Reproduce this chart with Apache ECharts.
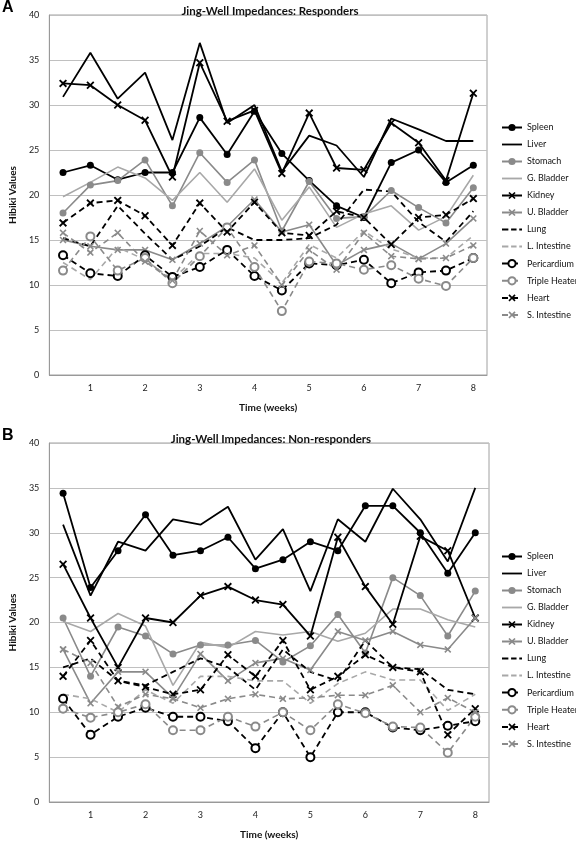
<!DOCTYPE html>
<html>
<head>
<meta charset="utf-8">
<script src="https://cdn.jsdelivr.net/npm/echarts@6/dist/echarts.min.js"></script>
<style>html,body{margin:0;padding:0;background:#fff;}#c{width:576px;height:841px;}</style>
</head>
<body>
<div id="c"></div>
<script>
// Categories: half-week time points
const weeks = ['0.5','1','1.5','2','2.5','3','3.5','4','4.5','5','5.5','6','6.5','7','7.5','8'];
const seriesNames = ['Spleen','Liver','Stomach','G. Bladder','Kidney','U. Bladder','Lung','L. Intestine','Pericardium','Triple Heater','Heart','S. Intestine'];
const titleA = 'Jing-Well Impedances: Responders';
const titleB = 'Jing-Well Impedances: Non-responders';
const yTicks = {min: 0, max: 40, interval: 5};

// Panel A: Responders
const spleenA       = [22.5, 23.3, 21.7, 22.5, 22.5, 28.6, 24.5, 29.3, 24.6, 21.6, 18.8, 17.5, 23.6, 25.0, 21.4, 23.3];
const liverA        = [30.9, 35.8, 30.7, 33.6, 26.1, 36.9, 28.0, 30.0, 22.6, 26.6, 25.5, 22.0, 28.5, 27.3, 26.0, 26.0];
const stomachA      = [18.0, 21.1, 21.6, 23.9, 18.8, 24.7, 21.4, 23.9, 16.0, 21.5, 17.4, 17.6, 20.5, 18.6, 16.9, 20.8];
const gBladderA     = [19.8, 21.4, 23.1, 21.9, 19.4, 22.5, 19.2, 22.9, 17.2, 20.9, 16.4, 17.9, 18.8, 16.1, 17.6, 22.2];
const kidneyA       = [32.4, 32.2, 30.0, 28.3, 22.0, 34.7, 28.2, 29.4, 22.4, 29.1, 23.0, 22.8, 28.0, 25.8, 21.6, 31.3];
const uBladderA     = [15.0, 14.3, 13.9, 13.9, 12.8, 14.6, 16.5, 19.5, 15.9, 16.7, 12.2, 13.9, 14.6, 12.9, 14.6, 17.4];
const lungA         = [15.2, 14.3, 18.8, 15.7, 12.8, 14.3, 16.4, 15.0, 15.0, 15.2, 16.7, 20.6, 20.4, 17.0, 14.8, 18.2];
const lIntestineA   = [12.5, 10.6, 14.2, 12.8, 10.6, 13.5, 13.5, 13.0, 10.2, 14.5, 13.0, 16.0, 14.0, 13.0, 13.0, 15.5];
const pericardiumA  = [13.3, 11.3, 11.0, 13.3, 10.9, 12.0, 13.9, 11.0, 9.4, 12.4, 12.2, 12.8, 10.2, 11.4, 11.6, 13.0];
const tripleHeaterA = [11.6, 15.4, 11.6, 13.0, 10.2, 13.2, 16.4, 12.0, 7.1, 12.6, 12.4, 11.7, 12.2, 10.7, 9.9, 13.0];
const heartA        = [16.9, 19.1, 19.4, 17.7, 14.4, 19.1, 15.9, 19.2, 15.8, 15.5, 18.2, 17.5, 14.5, 17.5, 17.8, 19.6];
const sIntestineA   = [15.8, 13.6, 15.8, 12.6, 10.5, 16.0, 13.3, 14.4, 10.0, 13.9, 11.7, 15.8, 13.2, 12.9, 13.0, 14.4];

// Panel B: Non-responders
const spleenB       = [34.4, 23.9, 28.0, 32.0, 27.5, 28.0, 29.5, 26.0, 27.0, 29.0, 28.0, 33.0, 33.0, 30.0, 25.5, 30.0];
const liverB        = [30.9, 23.0, 29.0, 28.0, 31.5, 30.9, 32.9, 27.0, 30.4, 23.5, 31.5, 29.0, 34.9, 31.5, 26.8, 35.0];
const stomachB      = [20.5, 14.0, 19.5, 18.5, 16.5, 17.5, 17.5, 18.0, 15.6, 17.4, 20.9, 16.6, 25.0, 23.0, 18.5, 23.5];
const gBladderB     = [20.1, 19.0, 21.0, 19.6, 13.0, 17.8, 17.2, 19.0, 18.6, 19.0, 17.9, 18.8, 21.5, 21.5, 20.3, 19.5];
const kidneyB       = [26.5, 20.5, 15.0, 20.5, 20.0, 23.0, 24.0, 22.5, 22.0, 18.5, 29.5, 24.0, 19.8, 29.6, 28.0, 20.5];
const uBladderB     = [17.0, 11.0, 14.5, 14.5, 11.6, 16.5, 13.5, 15.5, 16.0, 14.7, 19.0, 18.0, 19.0, 17.5, 17.0, 20.5];
const lungB         = [15.0, 16.0, 13.5, 13.0, 14.5, 16.0, 15.0, 12.5, 17.0, 14.5, 13.5, 18.0, 15.0, 14.8, 12.5, 12.0];
const lIntestineB   = [12.0, 11.5, 10.0, 12.5, 11.0, 14.0, 14.0, 13.5, 13.5, 11.0, 13.2, 14.5, 13.6, 13.6, 10.2, 12.0];
const pericardiumB  = [11.5, 7.5, 9.5, 10.5, 9.5, 9.5, 9.0, 6.0, 10.0, 5.0, 10.0, 10.0, 8.3, 8.0, 8.5, 9.0];
const tripleHeaterB = [10.4, 9.4, 10.0, 10.9, 8.0, 8.0, 9.5, 8.4, 10.0, 8.0, 10.9, 9.9, 8.4, 8.3, 5.5, 9.5];
const heartB        = [14.0, 18.0, 13.5, 12.8, 12.0, 12.5, 16.4, 14.0, 18.0, 12.5, 14.0, 16.4, 15.0, 14.5, 7.5, 10.4];
const sIntestineB   = [17.0, 15.5, 10.6, 12.0, 11.5, 10.5, 11.5, 12.0, 11.5, 11.6, 11.9, 11.9, 13.0, 10.0, 11.6, 10.0];

const dataA = [spleenA, liverA, stomachA, gBladderA, kidneyA, uBladderA, lungA, lIntestineA, pericardiumA, tripleHeaterA, heartA, sIntestineA];
const dataB = [spleenB, liverB, stomachB, gBladderB, kidneyB, uBladderB, lungB, lIntestineB, pericardiumB, tripleHeaterB, heartB, sIntestineB];

// styles
const BLACK = '#000000', GRAY = '#8a8a8a', LIGHT = '#a8a8a8';
const XSYM = 'path://M1.6,0 L5,3.4 L8.4,0 L10,1.6 L6.6,5 L10,8.4 L8.4,10 L5,6.6 L1.6,10 L0,8.4 L3.4,5 L0,1.6 Z';
const LINE_ICON = 'path://M0,0 L22,0 L22,2 L0,2 Z';
const DASH_ICON = 'path://M0,0 L7,0 L7,2 L0,2 Z M10,0 L16,0 L16,2 L10,2 Z M19,0 L22,0 L22,2 L19,2 Z';
const styles = [
  {color: BLACK, dash: false, symbol: 'circle', size: 7},
  {color: BLACK, dash: false, symbol: 'none'},
  {color: GRAY,  dash: false, symbol: 'circle', size: 7},
  {color: LIGHT, dash: false, symbol: 'none'},
  {color: BLACK, dash: false, symbol: XSYM, size: 8},
  {color: GRAY,  dash: false, symbol: XSYM, size: 7},
  {color: BLACK, dash: true,  symbol: 'none'},
  {color: LIGHT, dash: true,  symbol: 'none'},
  {color: BLACK, dash: true,  symbol: 'emptyCircle', size: 8},
  {color: GRAY,  dash: true,  symbol: 'emptyCircle', size: 8},
  {color: BLACK, dash: true,  symbol: XSYM, size: 8},
  {color: GRAY,  dash: true,  symbol: XSYM, size: 7}
];

const FONT = 'Lato';
function makeSeries(data, idx) {
  return data.map((vals, i) => {
    const s = styles[i];
    return {
      name: seriesNames[i],
      type: 'line',
      xAxisIndex: idx, yAxisIndex: idx,
      data: vals,
      symbol: s.symbol,
      symbolSize: s.size || 6,
      showSymbol: s.symbol !== 'none',
      animation: false,
      lineStyle: {color: s.color, width: s.color === BLACK ? 1.8 : 1.6, type: s.dash ? [6, 4] : 'solid'},
      itemStyle: {color: s.color, borderColor: s.color, borderWidth: s.symbol === 'emptyCircle' ? 1.6 : 0},
      emphasis: {disabled: true}
    };
  });
}

function xAxis(idx) {
  return {
    type: 'category', gridIndex: idx, data: weeks, boundaryGap: true,
    axisLine: {lineStyle: {color: '#999', width: 1}},
    axisTick: {show: false},
    axisLabel: {interval: (i) => i % 2 === 1, margin: 9, fontSize: 9, color: '#222', fontFamily: FONT},
    splitLine: {show: false},
    name: 'Time (weeks)', nameLocation: 'middle', nameGap: 28,
    nameTextStyle: {fontSize: 10, fontWeight: 'bold', color: '#111', fontFamily: FONT}
  };
}
function yAxis(idx) {
  return {
    type: 'value', gridIndex: idx, min: yTicks.min, max: yTicks.max, interval: yTicks.interval,
    axisLine: {show: true, lineStyle: {color: '#999', width: 1}},
    axisTick: {show: false},
    axisLabel: {margin: 10, fontSize: 9, color: '#222', fontFamily: FONT},
    splitLine: {lineStyle: {color: '#c0c0c0', width: 1}},
    name: 'Hibiki Values', nameLocation: 'middle', nameGap: 27, nameRotate: 90,
    nameTextStyle: {fontSize: 10, fontWeight: 'bold', color: '#111', fontFamily: FONT}
  };
}
function legend(top) {
  return {
    orient: 'vertical', left: 496, top: top,
    itemWidth: 20, itemHeight: 9, itemGap: 8,
    data: seriesNames.map((n, i) => styles[i].symbol === 'none'
      ? {name: n, icon: styles[i].dash ? DASH_ICON : LINE_ICON}
      : {name: n}),
    selectedMode: false,
    textStyle: {fontSize: 9, color: '#111', fontFamily: FONT, lineHeight: 9}
  };
}

const chart = echarts.init(document.getElementById('c'), null, {renderer: 'canvas'});
chart.setOption({
  backgroundColor: '#fff',
  animation: false,
  title: [
    {text: titleA, left: 265, top: 0, textAlign: 'center', textStyle: {fontSize: 11.5, fontWeight: 'bold', color: '#111', fontFamily: FONT}},
    {text: titleB, left: 266, top: 428, textAlign: 'center', textStyle: {fontSize: 11.5, fontWeight: 'bold', color: '#111', fontFamily: FONT}}
  ],
  graphic: [
    {type: 'text', left: 2, top: 0, style: {text: 'A', font: 'bold 16px "Liberation Sans", Arial', fill: '#000'}},
    {type: 'text', left: 2, top: 428, style: {text: 'B', font: 'bold 16px "Liberation Sans", Arial', fill: '#000'}}
  ],
  grid: [
    {left: 37, top: 15, width: 450, height: 360, show: true, borderColor: '#a0a0a0', borderWidth: 1, backgroundColor: 'transparent'},
    {left: 37, top: 443, width: 452, height: 361, show: true, borderColor: '#a0a0a0', borderWidth: 1, backgroundColor: 'transparent'}
  ],
  xAxis: [xAxis(0), xAxis(1)],
  yAxis: [yAxis(0), yAxis(1)],
  legend: [legend(118), legend(547)],
  series: makeSeries(dataA, 0).concat(makeSeries(dataB, 1))
});
</script>
</body>
</html>
